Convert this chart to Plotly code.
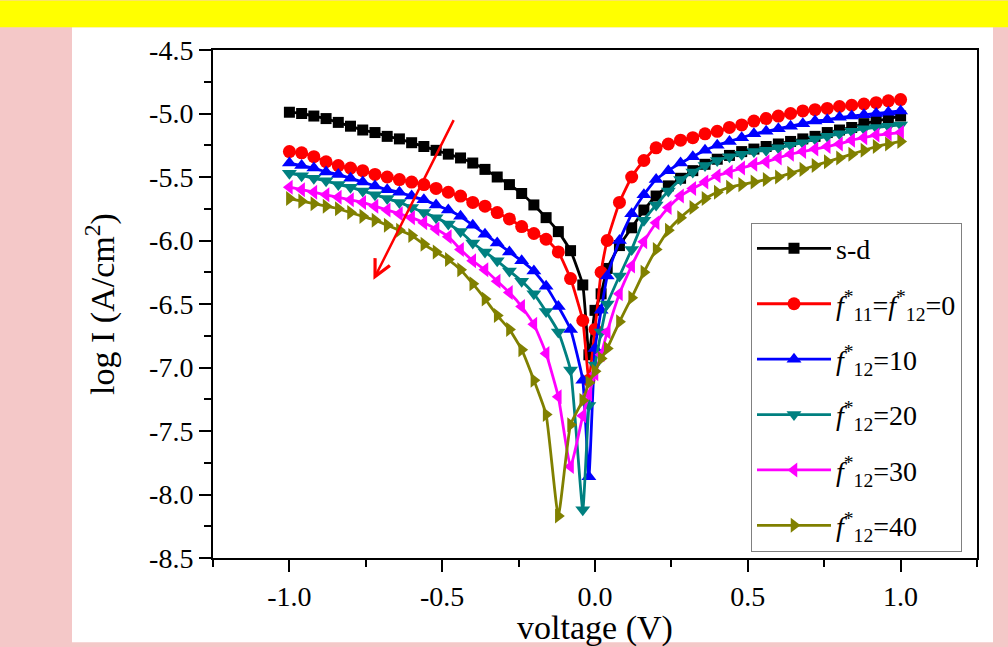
import plotly.graph_objects as go

voltage = [-1.00, -0.96, -0.92, -0.88, -0.84, -0.80, -0.76, -0.72, -0.68, -0.64,
           -0.60, -0.56, -0.52, -0.48, -0.44, -0.40, -0.36, -0.32, -0.28, -0.24,
           -0.20, -0.16, -0.12, -0.08, -0.04, -0.02, 0.00, 0.02, 0.04, 0.08,
           0.12, 0.16, 0.20, 0.24, 0.28, 0.32, 0.36, 0.40, 0.44, 0.48,
           0.52, 0.56, 0.60, 0.64, 0.68, 0.72, 0.76, 0.80, 0.84, 0.88,
           0.92, 0.96, 1.00]

sd = [-4.99, -5.00, -5.02, -5.04, -5.07, -5.10, -5.13, -5.15, -5.18, -5.20,
      -5.23, -5.26, -5.29, -5.32, -5.35, -5.39, -5.44, -5.50, -5.56, -5.63,
      -5.72, -5.82, -5.93, -6.08, -6.35, -6.90, -6.55, -6.42, -6.22, -6.04,
      -5.90, -5.76, -5.65, -5.57, -5.51, -5.45, -5.40, -5.36, -5.33, -5.30,
      -5.28, -5.26, -5.24, -5.22, -5.20, -5.18, -5.15, -5.13, -5.11, -5.08,
      -5.06, -5.04, -5.02]

f0 = [-5.30, -5.31, -5.34, -5.38, -5.41, -5.43, -5.45, -5.48, -5.50, -5.52,
      -5.54, -5.56, -5.59, -5.62, -5.65, -5.70, -5.73, -5.78, -5.83, -5.89,
      -5.945, -5.99, -6.09, -6.30, -6.63, -7.10, -6.70, -6.25, -6.00, -5.70,
      -5.50, -5.37, -5.27, -5.24, -5.21, -5.19, -5.16, -5.14, -5.11, -5.09,
      -5.06, -5.04, -5.02, -5.00, -4.98, -4.97, -4.96, -4.945, -4.935, -4.925,
      -4.915, -4.90, -4.89]

f10 = [-5.39, -5.41, -5.43, -5.46, -5.48, -5.51, -5.54, -5.57, -5.60, -5.62,
       -5.65, -5.68, -5.72, -5.76, -5.81, -5.88, -5.95, -6.02, -6.09, -6.16,
       -6.24, -6.36, -6.52, -6.70, -7.10, -7.86, -6.85, -6.55, -6.28, -6.00,
       -5.79, -5.64, -5.52, -5.45, -5.39, -5.34, -5.29, -5.25, -5.22, -5.19,
       -5.16, -5.14, -5.12, -5.10, -5.08, -5.06, -5.05, -5.03, -5.02, -5.01,
       -5.00, -4.99, -4.98]

f20 = [-5.47, -5.49, -5.51, -5.53, -5.56, -5.58, -5.61, -5.64, -5.67, -5.70,
       -5.74, -5.78, -5.82, -5.87, -5.93, -6.02, -6.09, -6.16, -6.24, -6.32,
       -6.42, -6.56, -6.72, -7.02, -8.12, -7.30, -6.98, -6.72, -6.50, -6.28,
       -6.07, -5.84, -5.72, -5.61, -5.52, -5.46, -5.41, -5.37, -5.34, -5.32,
       -5.30, -5.29, -5.27, -5.25, -5.23, -5.20, -5.18, -5.16, -5.14, -5.12,
       -5.11, -5.10, -5.09]

f30 = [-5.58, -5.60, -5.62, -5.64, -5.66, -5.68, -5.70, -5.73, -5.76, -5.79,
       -5.82, -5.86, -5.91, -5.97, -6.07, -6.16, -6.23, -6.32, -6.41, -6.52,
       -6.66, -6.89, -7.23, -7.78, -7.38, -7.21, -7.05, -6.90, -6.72, -6.42,
       -6.20, -6.01, -5.86, -5.74, -5.65, -5.59, -5.54, -5.49, -5.46, -5.43,
       -5.40, -5.38, -5.35, -5.32, -5.30, -5.28, -5.26, -5.24, -5.21, -5.19,
       -5.17, -5.16, -5.15]

f40 = [-5.67, -5.69, -5.71, -5.73, -5.75, -5.78, -5.81, -5.84, -5.88, -5.92,
       -5.96, -6.03, -6.09, -6.15, -6.23, -6.34, -6.46, -6.59, -6.70, -6.86,
       -7.10, -7.37, -8.17, -7.45, -7.26, -7.12, -7.03, -6.93, -6.85, -6.64,
       -6.45, -6.25, -6.07, -5.92, -5.82, -5.74, -5.67, -5.62, -5.58, -5.56,
       -5.54, -5.52, -5.50, -5.47, -5.44, -5.41, -5.38, -5.35, -5.32, -5.29,
       -5.26, -5.24, -5.22]

names = ["s-d",
         "<i>f</i><sup>*</sup><sub>11</sub>=<i>f</i><sup>*</sup><sub>12</sub>=0",
         "<i>f</i><sup>*</sup><sub>12</sub>=10",
         "<i>f</i><sup>*</sup><sub>12</sub>=20",
         "<i>f</i><sup>*</sup><sub>12</sub>=30",
         "<i>f</i><sup>*</sup><sub>12</sub>=40"]
series = [sd, f0, f10, f20, f30, f40]
colors = ["#000000", "#FF0000", "#0000FF", "#008080", "#FF00FF", "#808000"]
symbols = ["square", "circle", "triangle-up", "triangle-down", "triangle-left", "triangle-right"]

x_ticks = [-1.0, -0.5, 0.0, 0.5, 1.0]
x_ticktext = ["-1.0", "-0.5", "0.0", "0.5", "1.0"]
y_ticks = [-8.5, -8.0, -7.5, -7.0, -6.5, -6.0, -5.5, -5.0, -4.5]
y_ticktext = ["-8.5", "-8.0", "-7.5", "-7.0", "-6.5", "-6.0", "-5.5", "-5.0", "-4.5"]

FONT = "Liberation Serif"

fig = go.Figure()
for i, (nm, ys, c, s) in enumerate(zip(names, series, colors, symbols)):
    fig.add_trace(go.Scatter(
        x=voltage, y=ys, name=nm, mode="lines+markers",
        line=dict(color=c, width=2.8, shape="spline", smoothing=0.4),
        marker=dict(color=c, symbol=s, size=13 if i else 11),
        legendgroup=str(i),
    ))

# page decoration: pink background, yellow banner, white panel
L, R, T, B = 213, 31, 50, 85
W, H = 1008, 647
pw, ph = W - L - R, H - T - B
def px(x):
    return (x - L) / pw
def py(y):
    return (H - B - y) / ph

fig.add_shape(type="rect", xref="paper", yref="paper", layer="below",
              x0=px(72), x1=px(993), y0=py(647), y1=py(27),
              fillcolor="white", line=dict(width=0))
fig.add_shape(type="rect", xref="paper", yref="paper", layer="below",
              x0=px(0), x1=px(1008), y0=py(27), y1=py(0),
              fillcolor="#FFFF00", line=dict(width=0))

fig.add_annotation(x=-0.725, y=-6.31, ax=-0.46, ay=-5.04, xref="x", yref="y",
                   axref="x", ayref="y", showarrow=True, arrowhead=5,
                   arrowsize=1.3, arrowwidth=2.5, arrowcolor="#FF0000", text="")

fig.update_layout(
    width=W, height=H,
    margin=dict(l=L, r=R, t=T, b=B, pad=0),
    paper_bgcolor="#F4C8C8", plot_bgcolor="white",
    font=dict(family=FONT, size=28, color="black"),
    legend=dict(x=px(751), y=py(224), xanchor="left", yanchor="top",
                bgcolor="white", bordercolor="#808080", borderwidth=1,
                font=dict(family=FONT, size=28, color="black"), tracegroupgap=16,
                itemwidth=74),
    xaxis=dict(range=[-1.25, 1.25], tickvals=x_ticks, ticktext=x_ticktext,
               ticks="outside", ticklen=12, tickwidth=2, tickcolor="black",
               minor=dict(dtick=0.25, ticks="outside", ticklen=7, tickwidth=2, tickcolor="black"),
               showline=True, linecolor="black", linewidth=2, mirror=True,
               showgrid=False, zeroline=False,
               tickfont=dict(family=FONT, size=28, color="black"),
               title=dict(text="voltage (V)", font=dict(family=FONT, size=34, color="black"), standoff=0)),
    yaxis=dict(range=[-8.5, -4.5], tickvals=y_ticks, ticktext=y_ticktext,
               ticks="outside", ticklen=12, tickwidth=2, tickcolor="black",
               minor=dict(dtick=0.25, ticks="outside", ticklen=7, tickwidth=2, tickcolor="black"),
               showline=True, linecolor="black", linewidth=2, mirror=True,
               showgrid=False, zeroline=False,
               tickfont=dict(family=FONT, size=28, color="black"),
               title=dict(text="log I (A/cm<sup>2</sup>)", font=dict(family=FONT, size=34, color="black"), standoff=24)),
)

fig.write_html("out.html")
